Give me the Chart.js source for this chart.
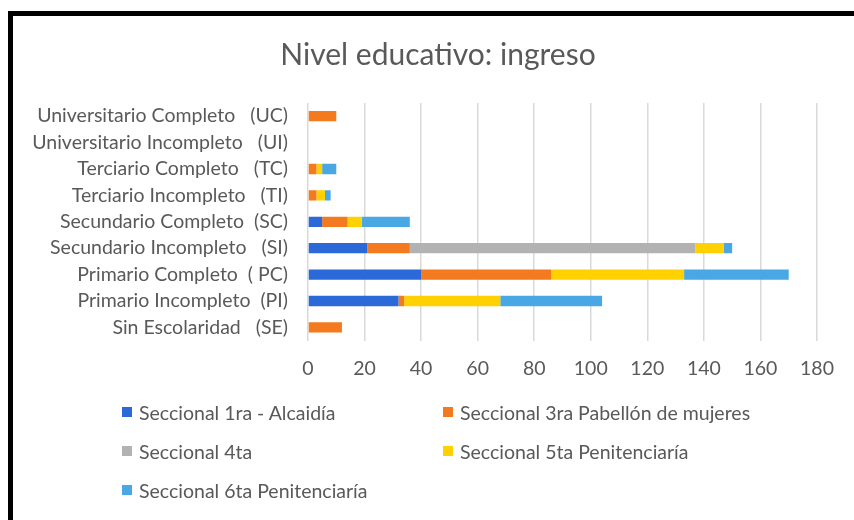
<!DOCTYPE html>
<html>
<head>
<meta charset="utf-8">
<script src="https://cdn.jsdelivr.net/npm/chart.js@4.4.1/dist/chart.umd.min.js"></script>
<style>
  html, body { margin: 0; padding: 0; background: #fff; }
  #wrap { position: relative; width: 854px; height: 520px; overflow: hidden; }
  #frame { position: absolute; left: 8px; top: 11px; width: 900px; height: 600px;
           border-left: 5px solid #000; border-top: 5px solid #000; pointer-events: none; }
  #legend { position: absolute; left: 122px; top: 401px; display: grid;
            grid-template-columns: 321px 320px; row-gap: 17px;
            font-family: Lato, sans-serif; font-size: 19.5px; color: #595959; }
  #legend div { display: flex; align-items: center; height: 22px; white-space: nowrap; }
  #legend span.sw { width: 10px; height: 10px; margin-right: 7px; display: inline-block; }
</style>
</head>
<body>
<div id="wrap">
  <canvas id="chart" width="854" height="520"></canvas>
  <div id="frame"></div>
  <div id="legend"></div>
</div>
<script>
// datos (de arriba hacia abajo)
const categorias = [
  'Universitario Completo   (UC)',
  'Universitario Incompleto   (UI)',
  'Terciario Completo   (TC)',
  'Terciario Incompleto   (TI)',
  'Secundario Completo  (SC)',
  'Secundario Incompleto   (SI)',
  'Primario Completo  ( PC)',
  'Primario Incompleto  (PI)',
  'Sin Escolaridad   (SE)'
];
const seccional1 = [0, 0, 0, 0, 5, 21, 40, 32, 0];
const seccional3 = [10, 0, 3, 3, 9, 15, 46, 2, 12];
const seccional4 = [0, 0, 0, 0, 0, 101, 0, 0, 0];
const seccional5 = [0, 0, 2, 3, 5, 10, 47, 34, 0];
const seccional6 = [0, 0, 5, 2, 17, 3, 37, 36, 0];

const series = ['Seccional 1ra - Alcaidía', 'Seccional 3ra Pabellón de mujeres', 'Seccional 4ta',
                'Seccional 5ta Penitenciaría', 'Seccional 6ta Penitenciaría'];
const colores = ['#2b68d8', '#f47a1f', '#b2b2b2', '#ffd100', '#49a7e4'];
const valores = [seccional1, seccional3, seccional4, seccional5, seccional6];
const ticksX = [0, 20, 40, 60, 80, 100, 120, 140, 160, 180];
const titulo = 'Nivel educativo: ingreso';

const gris = '#595959';
const fuente = 'Lato, sans-serif';

const datasets = series.map((s, i) => ({
  label: s,
  data: valores[i],
  backgroundColor: colores[i],
  borderWidth: 0,
  barPercentage: 0.75,
  categoryPercentage: 0.52
}));

// titulo centrado sobre todo el grafico (no solo el area de datos)
const tituloPlugin = {
  id: 'tituloPlugin',
  afterDraw(chart) {
    const ctx = chart.ctx;
    ctx.save();
    ctx.font = '30px ' + fuente;
    ctx.fillStyle = gris;
    ctx.textAlign = 'center';
    ctx.textBaseline = 'middle';
    ctx.fillText(titulo, 438, 55);
    ctx.restore();
  }
};

new Chart(document.getElementById('chart'), {
  type: 'bar',
  data: { labels: categorias, datasets: datasets },
  plugins: [tituloPlugin],
  options: {
    indexAxis: 'y',
    responsive: false,
    animation: false,
    layout: { padding: { left: 0, right: 37, top: 103, bottom: 124 } },
    plugins: {
      legend: { display: false },
      tooltip: { enabled: false },
      title: { display: false }
    },
    scales: {
      x: {
        stacked: true,
        min: 0, max: 180,
        afterBuildTicks: (s) => { s.ticks = ticksX.map(v => ({ value: v })); },
        grid: { color: '#d9d9d9', lineWidth: 1.5, drawTicks: false },
        border: { display: false },
        ticks: { color: gris, padding: 16, font: { family: fuente, size: 19.5 } }
      },
      y: {
        stacked: true,
        afterFit: (s) => { s.width = 308; },
        grid: { display: false, drawTicks: false },
        border: { display: false },
        ticks: { color: gris, padding: 20, autoSkip: false, font: { family: fuente, size: 19.5 } }
      }
    }
  }
});

// leyenda en dos columnas
const leg = document.getElementById('legend');
series.forEach((s, i) => {
  const d = document.createElement('div');
  d.innerHTML = '<span class="sw" style="background:' + colores[i] + '"></span>' + s;
  leg.appendChild(d);
});
</script>
</body>
</html>
